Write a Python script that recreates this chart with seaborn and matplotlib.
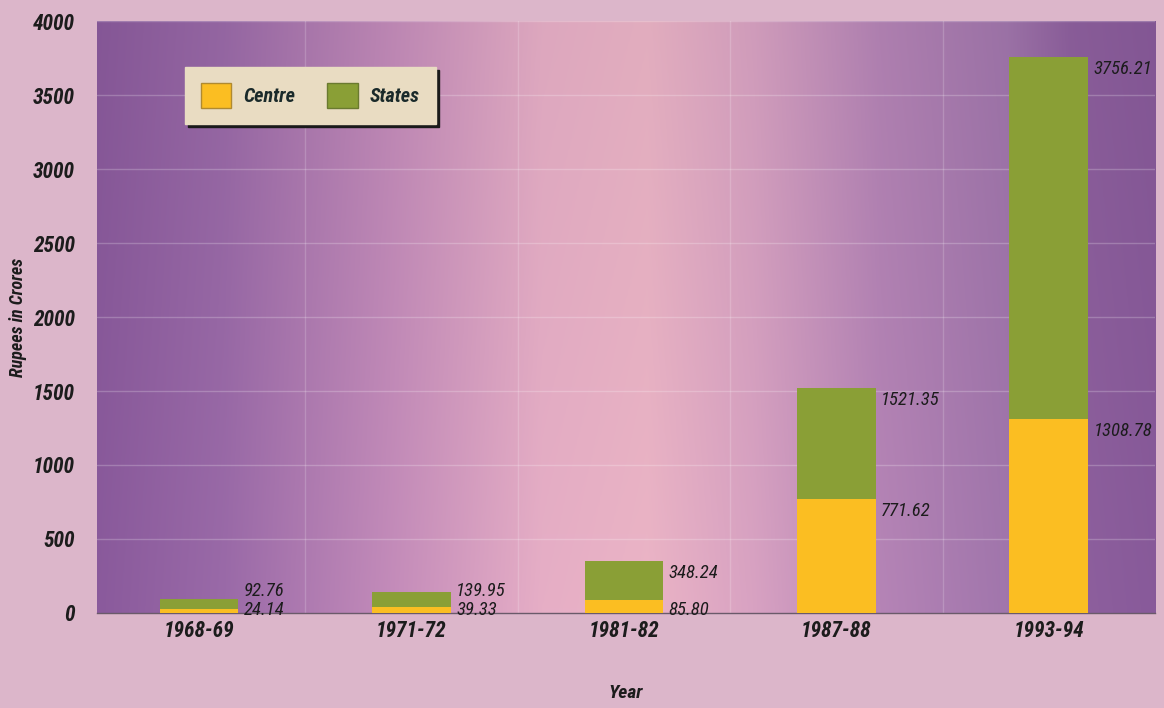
import matplotlib
matplotlib.use("Agg")
import matplotlib.pyplot as plt
import seaborn as sns
import numpy as np
import pandas as pd
from matplotlib import font_manager
from matplotlib.colors import to_rgb
from matplotlib.patches import Patch

# ---- data ----
years = ["1968-69", "1971-72", "1981-82", "1987-88", "1993-94"]
centre = [24.14, 39.33, 85.80, 771.62, 1308.78]
total = [92.76, 139.95, 348.24, 1521.35, 3756.21]   # Centre + States (top of stack)
yticks = [0, 500, 1000, 1500, 2000, 2500, 3000, 3500, 4000]

# ---- style ----
sns.set_style("white")
avail = {f.name for f in font_manager.fontManager.ttflist}
cands = ["Liberation Sans Narrow", "DejaVu Sans Condensed", "Roboto Condensed", "Liberation Sans"]
fam = [c for c in cands if c in avail] + ["DejaVu Sans"]
plt.rcParams["font.family"] = fam

GREEN = "#8a9f36"
YELLOW = "#fbbe22"
BG = "#dcb6ca"
TXT = "#1c1c1c"

fig = plt.figure(figsize=(11.64, 7.08), dpi=100, facecolor=BG)
ax = fig.add_axes([0.0833, 0.1342, 0.909, 0.8361])

XL = (-0.48, 4.5)
YL = (0, 4000)

# gradient background of plotting area
stops = [(0.00, "#8a5a9c"), (0.12, "#9a6aa8"), (0.28, "#c48cba"), (0.42, "#e6aec6"),
         (0.52, "#ebb4c6"), (0.62, "#d8a2c2"), (0.74, "#b584b6"), (0.86, "#a176ac"),
         (0.92, "#8e609e"), (1.00, "#885a9a")]
xs = np.linspace(0, 1, 600)
pos = [s[0] for s in stops]
cols = np.array([to_rgb(s[1]) for s in stops])
row = np.stack([np.interp(xs, pos, cols[:, k]) for k in range(3)], axis=-1)
vert = np.linspace(1.0, 0.96, 60)[:, None, None]  # slightly darker at top
img = np.clip(row[None, :, :] * vert, 0, 1)
ax.imshow(img, extent=(XL[0], XL[1], YL[0], YL[1]), aspect="auto", origin="lower", zorder=-2)

df = pd.DataFrame({"Year": years, "Total": total, "Centre": centre})
BW = 0.37
sns.barplot(data=df, x="Year", y="Total", color=GREEN, saturation=1, width=BW,
            errorbar=None, ax=ax, edgecolor="none", zorder=2)
sns.barplot(data=df, x="Year", y="Centre", color=YELLOW, saturation=1, width=BW,
            errorbar=None, ax=ax, edgecolor="none", zorder=3)

# faint grid
for yv in yticks[1:]:
    ax.axhline(yv, color="white", alpha=0.22, lw=1, zorder=-1)
for xv in [0.5, 1.5, 2.5, 3.5]:
    ax.axvline(xv, color="white", alpha=0.18, lw=1, zorder=-1)

# value labels (placed just right of each bar, slightly below the value level)
lab_kw = dict(fontsize=13.5, style="italic", color=TXT, ha="left", va="center", zorder=5)
DROP = 80      # data units below the value level
MINC = 20      # lowest label level
SEP = 130      # min vertical separation between the two labels of a bar
for i, (c, t) in enumerate(zip(centre, total)):
    xl = i + BW / 2 + 0.025
    cy = max(c - DROP, MINC)
    ty = max(t - DROP, cy + SEP)
    ax.text(xl, ty, f"{t:.2f}", **lab_kw)
    ax.text(xl, cy, f"{c:.2f}", **lab_kw)

ax.set_xlim(*XL)
ax.set_ylim(*YL)
ax.set_yticks(yticks)
ax.set_yticklabels([str(v) for v in yticks])
for s in ["top", "right", "left"]:
    ax.spines[s].set_visible(False)
ax.spines["bottom"].set_color("#6a5a6a")
ax.spines["bottom"].set_linewidth(1)
ax.tick_params(axis="both", length=0, labelsize=15.5, labelcolor=TXT)
ax.tick_params(axis="y", pad=16)
ax.tick_params(axis="x", pad=5)
for lab in ax.get_xticklabels() + ax.get_yticklabels():
    lab.set_fontweight("bold")
    lab.set_fontstyle("italic")

ax.set_xlabel("Year", fontsize=14, fontweight="bold", style="italic", color=TXT, labelpad=30)
ax.set_ylabel("Rupees in Crores", fontsize=13, fontweight="bold", style="italic", color=TXT, labelpad=4)

handles = [Patch(facecolor=YELLOW, edgecolor="#b08a30", label="Centre"),
           Patch(facecolor=GREEN, edgecolor="#6a7a30", label="States")]
leg = ax.legend(handles=handles, loc="upper left", bbox_to_anchor=(0.083, 0.922), ncol=2,
                frameon=True, fancybox=False, shadow={"color": "#1a1a1a", "alpha": 1.0},
                handlelength=1.5, handleheight=1.5, handletextpad=0.6, columnspacing=1.6,
                borderpad=0.8, borderaxespad=0,
                prop={"size": 14.5, "weight": "bold", "style": "italic"})
leg.get_frame().set_facecolor("#e9dcc2")
leg.get_frame().set_edgecolor("#e9dcc2")
leg.get_frame().set_alpha(1)
for t in leg.get_texts():
    t.set_color("#1a2a2a")
leg.set_zorder(10)

fig.savefig("out.png", dpi=100, facecolor=BG)
